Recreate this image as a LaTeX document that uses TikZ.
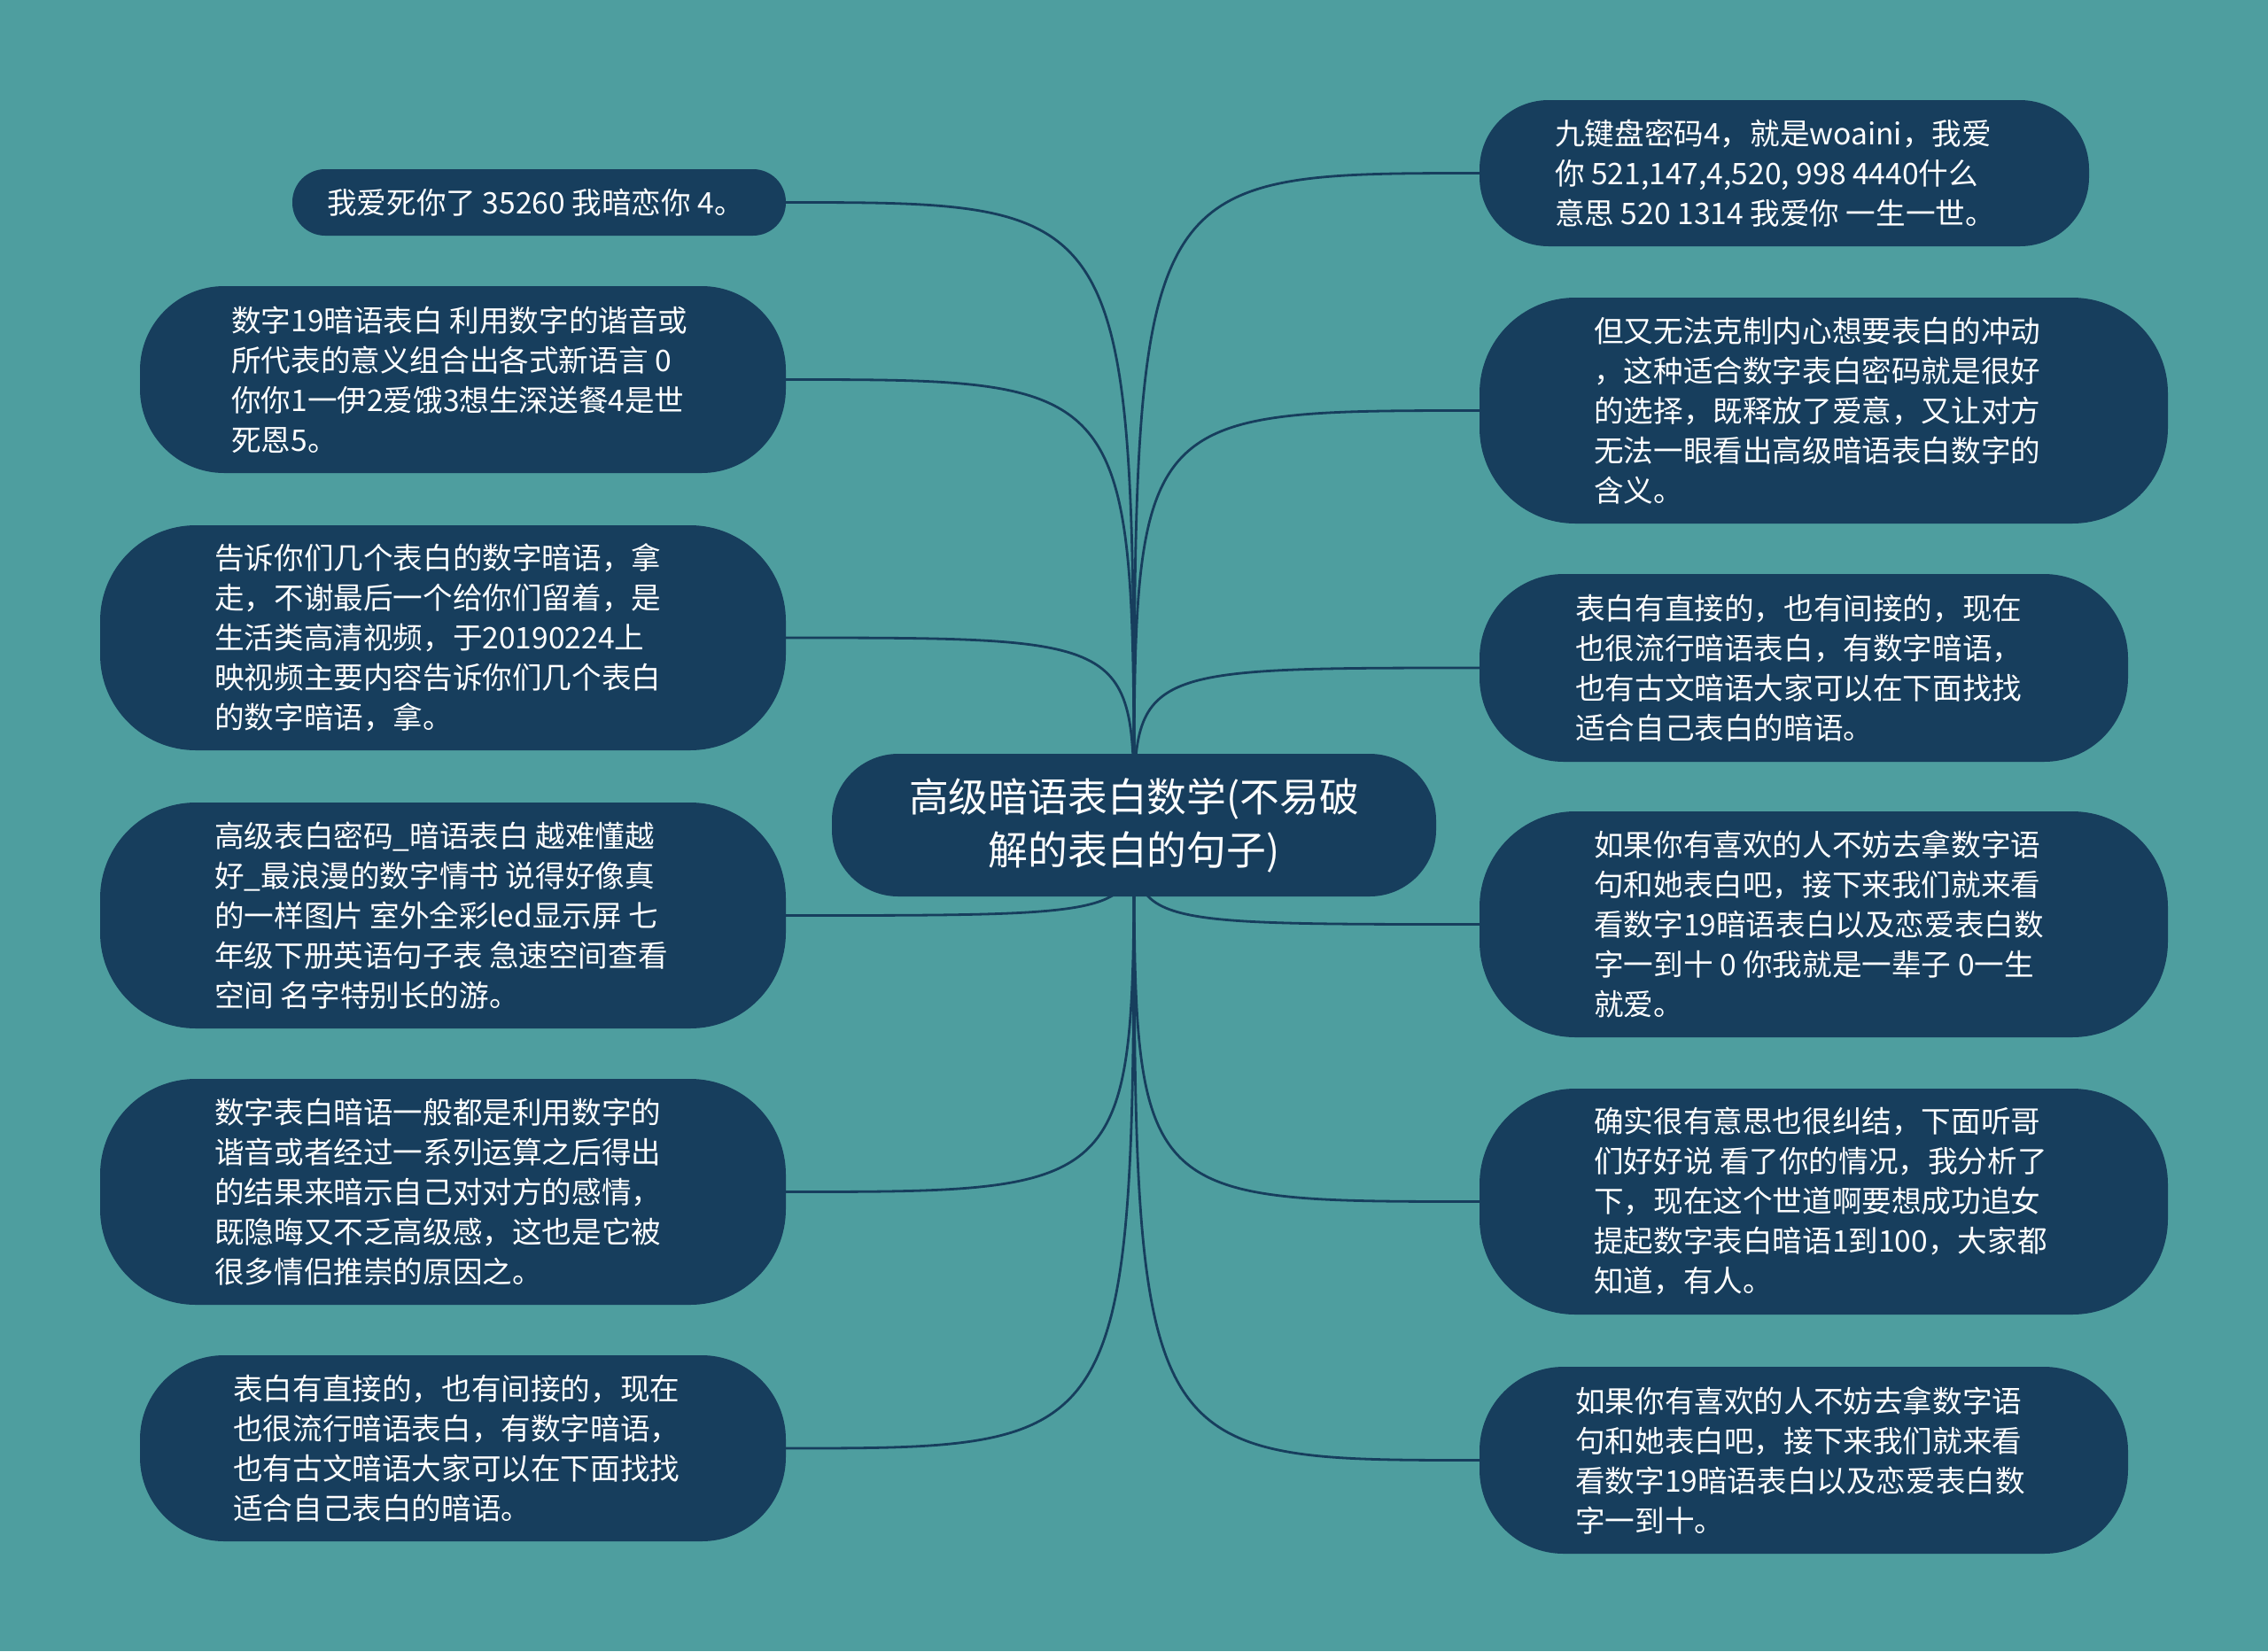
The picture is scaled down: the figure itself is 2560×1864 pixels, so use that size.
\documentclass[tikz,border=0pt]{standalone}
\usepackage{fontspec}
\newfontfamily\cjk{Noto Sans CJK SC}
\definecolor{bgteal}{RGB}{78,158,159}
\definecolor{navy}{RGB}{23,62,93}
\pgfdeclarelayer{back}
\pgfdeclarelayer{edges}
\pgfsetlayers{back,edges,main}
\tikzset{
  box/.style={draw=none, fill=navy, inner sep=0pt, rectangle},
  txt/.style={text=white, inner sep=0pt, anchor=west, align=left, font=\cjk\fontsize{33.6}{45}\selectfont},
  ctxt/.style={text=white, inner sep=0pt, align=center, font=\cjk\fontsize{44.8}{60}\selectfont},
  link/.style={draw=navy, line width=2.8pt}
}
\begin{document}
\begin{tikzpicture}[x=1pt,y=-1pt]
\begin{pgfonlayer}{back}
\fill[bgteal] (0,0) rectangle (2560,1864);
\end{pgfonlayer}
\useasboundingbox (0,0) rectangle (2560,1864);

% centre
\node[box, minimum width=682pt, minimum height=161pt, rounded corners=75pt] (c) at (1280,931.5) {};
\node[ctxt] (ct) at (1280,931.5) {高级暗语表白数学(不易破\\解的表白的句子)};

% left side
\node[box, minimum width=557pt, minimum height=75pt, rounded corners=37pt] (l1) at (608.5,228.5) {};
\node[txt] (l1t) at (369,228.5) {我爱死你了 35260 我暗恋你 4。};

\node[box, minimum width=729pt, minimum height=211pt, rounded corners=95pt] (l2) at (522.5,428.5) {};
\node[txt] (l2t) at (261,428.5) {数字19暗语表白 利用数字的谐音或\\所代表的意义组合出各式新语言 0\\你你1一伊2爱饿3想生深送餐4是世\\死恩5。};

\node[box, minimum width=774pt, minimum height=254pt, rounded corners=108pt] (l3) at (500,720) {};
\node[txt] (l3t) at (242,720) {告诉你们几个表白的数字暗语，拿\\走，不谢最后一个给你们留着，是\\生活类高清视频，于20190224上\\映视频主要内容告诉你们几个表白\\的数字暗语，拿。};

\node[box, minimum width=774pt, minimum height=255pt, rounded corners=108pt] (l4) at (500,1033.5) {};
\node[txt] (l4t) at (242,1033.5) {高级表白密码\_暗语表白 越难懂越\\好\_最浪漫的数字情书 说得好像真\\的一样图片 室外全彩led显示屏 七\\年级下册英语句子表 急速空间查看\\空间 名字特别长的游。};

\node[box, minimum width=774pt, minimum height=255pt, rounded corners=108pt] (l5) at (500,1345.5) {};
\node[txt] (l5t) at (242,1345.5) {数字表白暗语一般都是利用数字的\\谐音或者经过一系列运算之后得出\\的结果来暗示自己对对方的感情，\\既隐晦又不乏高级感，这也是它被\\很多情侣推崇的原因之。};

\node[box, minimum width=729pt, minimum height=210pt, rounded corners=95pt] (l6) at (522.5,1635) {};
\node[txt] (l6t) at (263,1635) {表白有直接的，也有间接的，现在\\也很流行暗语表白，有数字暗语，\\也有古文暗语大家可以在下面找找\\适合自己表白的暗语。};

% right side
\node[box, minimum width=688pt, minimum height=165pt, rounded corners=78pt] (r1) at (2014,195.5) {};
\node[txt] (r1t) at (1755,195.5) {九键盘密码4，就是woaini，我爱\\你 521,147,4,520, 998 4440什么\\意思 520 1314 我爱你 一生一世。};

\node[box, minimum width=777pt, minimum height=255pt, rounded corners=108pt] (r2) at (2058.5,463.5) {};
\node[txt] (r2t) at (1799,463.5) {但又无法克制内心想要表白的冲动\\，这种适合数字表白密码就是很好\\的选择，既释放了爱意，又让对方\\无法一眼看出高级暗语表白数字的\\含义。};

\node[box, minimum width=732pt, minimum height=212pt, rounded corners=95pt] (r3) at (2036,754) {};
\node[txt] (r3t) at (1778,754) {表白有直接的，也有间接的，现在\\也很流行暗语表白，有数字暗语，\\也有古文暗语大家可以在下面找找\\适合自己表白的暗语。};

\node[box, minimum width=777pt, minimum height=255pt, rounded corners=108pt] (r4) at (2058.5,1043.5) {};
\node[txt] (r4t) at (1799,1043.5) {如果你有喜欢的人不妨去拿数字语\\句和她表白吧，接下来我们就来看\\看数字19暗语表白以及恋爱表白数\\字一到十 0 你我就是一辈子 0一生\\就爱。};

\node[box, minimum width=777pt, minimum height=255pt, rounded corners=108pt] (r5) at (2058.5,1356.5) {};
\node[txt] (r5t) at (1799,1356.5) {确实很有意思也很纠结，下面听哥\\们好好说 看了你的情况，我分析了\\下，现在这个世道啊要想成功追女\\提起数字表白暗语1到100，大家都\\知道，有人。};

\node[box, minimum width=732pt, minimum height=211pt, rounded corners=95pt] (r6) at (2036,1648.5) {};
\node[txt] (r6t) at (1778,1648.5) {如果你有喜欢的人不妨去拿数字语\\句和她表白吧，接下来我们就来看\\看数字19暗语表白以及恋爱表白数\\字一到十。};

\begin{pgfonlayer}{edges}
\foreach \n in {l1,l2,l3,l4,l5,l6}{
  \draw[link] (c.center) .. controls (c.center |- \n.east) .. (\n.east);
}
\foreach \n in {r1,r2,r3,r4,r5,r6}{
  \draw[link] (c.center) .. controls (c.center |- \n.west) .. (\n.west);
}
\end{pgfonlayer}
\end{tikzpicture}
\end{document}
